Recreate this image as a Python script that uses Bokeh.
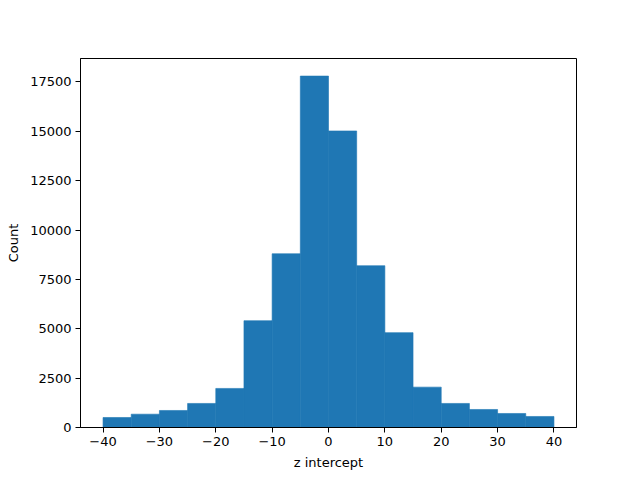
from bokeh.plotting import figure
from bokeh.models import FixedTicker, Range1d, ColumnDataSource
from bokeh.embed import file_html
from bokeh.resources import INLINE

bin_edges = [-40, -35, -30, -25, -20, -15, -10, -5, 0, 5, 10, 15, 20, 25, 30, 35, 40]
counts = [507, 675, 862, 1218, 1979, 5410, 8800, 17800, 15020, 8195, 4805, 2045, 1218, 913, 710, 558]
x_ticks = [-40, -30, -20, -10, 0, 10, 20, 30, 40]
y_ticks = [0, 2500, 5000, 7500, 10000, 12500, 15000, 17500]

src = ColumnDataSource(dict(left=bin_edges[:-1], right=bin_edges[1:], top=counts, bottom=[0] * len(counts)))

p = figure(width=624, height=472, output_backend="svg", toolbar_location=None,
           x_range=Range1d(-44, 44), y_range=Range1d(0, max(counts) * 1.05),
           min_border_left=80, min_border_right=48, min_border_top=58, min_border_bottom=45)
p.quad(left="left", right="right", top="top", bottom="bottom", source=src,
       fill_color="#1f77b4", line_color="#1f77b4", line_width=0.6)

p.xgrid.visible = False
p.ygrid.visible = False
p.outline_line_color = "black"
p.outline_line_width = 1
p.background_fill_color = "white"
p.border_fill_color = "white"

p.xaxis.ticker = FixedTicker(ticks=x_ticks)
p.yaxis.ticker = FixedTicker(ticks=y_ticks)
p.xaxis.major_label_overrides = {t: (("\u2212" + str(abs(t))) if t < 0 else str(t)) for t in x_ticks}
p.xaxis.axis_label = "z intercept"
p.yaxis.axis_label = "Count"

for ax in (p.xaxis[0], p.yaxis[0]):
    ax.minor_tick_line_color = None
    ax.major_tick_in = 0
    ax.major_tick_out = 5
    ax.major_tick_line_color = "black"
    ax.axis_line_color = "black"
    ax.major_label_text_font = "DejaVu Sans"
    ax.major_label_text_font_size = "13px"
    ax.major_label_text_color = "black"
    ax.axis_label_text_font = "DejaVu Sans"
    ax.axis_label_text_font_size = "13px"
    ax.axis_label_text_font_style = "normal"
    ax.axis_label_text_color = "black"
    ax.major_label_standoff = 4
    ax.axis_label_standoff = 6

open("out.html", "w").write(file_html(p, INLINE))
